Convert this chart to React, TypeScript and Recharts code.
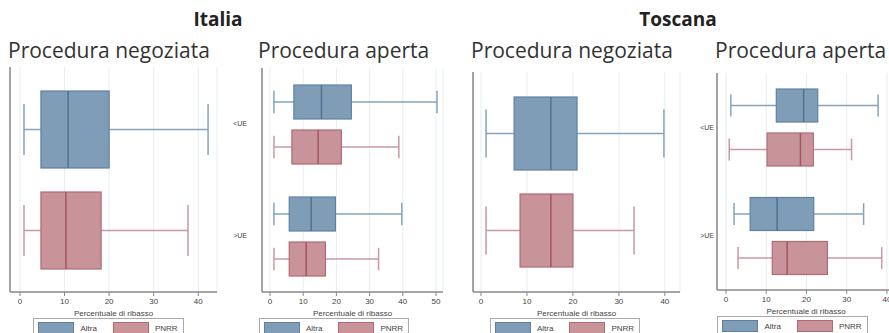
import { ComposedChart, Bar, XAxis, YAxis, CartesianGrid, Legend } from 'recharts';

// five-number summaries: [min, q1, median, q3, max]
const seriesNames = ['Altra', 'PNRR'];
const apertaCats = ['<UE', '>UE'];
const xTicks40 = [0, 10, 20, 30, 40];
const xTicks50 = [0, 10, 20, 30, 40, 50];

const itNegAltra = [0.9, 4.7, 10.8, 20.0, 42.2];
const itNegPnrr = [0.9, 4.7, 10.3, 18.2, 37.7];

const itApAltra = [
  [1.2, 7.2, 15.5, 24.5, 50.3],
  [1.2, 5.8, 12.4, 19.7, 39.7],
];
const itApPnrr = [
  [1.2, 6.6, 14.5, 21.5, 38.8],
  [1.2, 5.8, 10.9, 16.7, 32.7],
];

const tsNegAltra = [1.1, 7.2, 15.2, 20.9, 39.8];
const tsNegPnrr = [1.1, 8.5, 15.2, 20.0, 33.3];

const tsApAltra = [
  [1.2, 12.5, 19.3, 22.8, 37.8],
  [2.0, 6.0, 12.7, 21.8, 34.2],
];
const tsApPnrr = [
  [0.8, 10.2, 18.5, 21.7, 31.2],
  [3.0, 11.5, 15.2, 25.2, 38.7],
];

const colors = {
  Altra: { fill: '#7f9db7', stroke: '#5f81a0', whisker: '#86a3bc', median: '#4f7394' },
  PNRR: { fill: '#c8949a', stroke: '#b06a74', whisker: '#cc97a0', median: '#a35562' },
};

const negRows = (a: number[], p: number[]) => [{ cat: '', Altra: a, PNRR: p }];
const apRows = (a: number[][], p: number[][]) =>
  apertaCats.map((c, i) => ({ cat: c, Altra: a[i], PNRR: p[i] }));

const CH = 350;
const AXIS_H = 26;
const LEG_H = 20;

const panels = [
  {
    title: 'Procedura negoziata', titleLeft: 8, left: 0, width: 225, top: 67, bottom: 292,
    yw: 10, right: 8, domain: [-2.24, 44.2], ticks: xTicks40, barSize: 77, barGap: 24,
    tickMargin: 2, rows: negRows(itNegAltra, itNegPnrr),
  },
  {
    title: 'Procedura aperta', titleLeft: 258, left: 225, width: 225, top: 68, bottom: 292,
    yw: 37, right: 7, domain: [-2.4, 52.1], ticks: xTicks50, barSize: 34, barGap: 11,
    tickMargin: 15, rows: apRows(itApAltra, itApPnrr),
  },
  {
    title: 'Procedura negoziata', titleLeft: 471, left: 450, width: 240, top: 72, bottom: 292,
    yw: 23, right: 10, domain: [-1.74, 43.3], ticks: xTicks40, barSize: 73, barGap: 24,
    tickMargin: 2, rows: negRows(tsNegAltra, tsNegPnrr),
  },
  {
    title: 'Procedura aperta', titleLeft: 715, left: 690, width: 210, top: 73, bottom: 290,
    yw: 27, right: 5, domain: [-2.24, 42], ticks: xTicks40, barSize: 33, barGap: 11,
    tickMargin: 3, rows: apRows(tsApAltra, tsApPnrr),
  },
];

function BoxShape(props: any) {
  const { x, y, width, height, payload, name } = props;
  const s: number[] = payload[name];
  const c = (colors as any)[name];
  const lo = s[0];
  const hi = s[4];
  const px = (v: number) => x + ((v - lo) / (hi - lo)) * width;
  const cy = y + height / 2;
  const cap = height * 0.33;
  return (
    <g>
      <line x1={px(s[0])} x2={px(s[1])} y1={cy} y2={cy} stroke={c.whisker} strokeWidth={1.5} />
      <line x1={px(s[3])} x2={px(s[4])} y1={cy} y2={cy} stroke={c.whisker} strokeWidth={1.5} />
      <line x1={px(s[0])} x2={px(s[0])} y1={cy - cap} y2={cy + cap} stroke={c.whisker} strokeWidth={1.5} />
      <line x1={px(s[4])} x2={px(s[4])} y1={cy - cap} y2={cy + cap} stroke={c.whisker} strokeWidth={1.5} />
      <rect
        x={px(s[1])}
        y={y}
        width={px(s[3]) - px(s[1])}
        height={height}
        fill={c.fill}
        stroke={c.stroke}
        strokeWidth={1.2}
      />
      <line x1={px(s[2])} x2={px(s[2])} y1={y} y2={y + height} stroke={c.median} strokeWidth={1.5} />
    </g>
  );
}

function LegendBox() {
  return (
    <div style={{ display: 'flex', justifyContent: 'center', height: LEG_H }}>
      <div
        style={{
          display: 'flex',
          alignItems: 'flex-start',
          border: '1px solid #aaa',
          padding: '3px 5px 0 4px',
          height: LEG_H,
          boxSizing: 'border-box',
          background: '#fff',
        }}
      >
        {seriesNames.map((n, i) => (
          <div key={n} style={{ display: 'flex', alignItems: 'center', marginRight: i === 0 ? 16 : 0 }}>
            <div
              style={{
                width: 34,
                height: 10,
                background: (colors as any)[n].fill,
                border: `1px solid ${(colors as any)[n].stroke}`,
              }}
            />
            <span style={{ fontFamily: 'Liberation Sans', fontSize: 8, color: '#444', marginLeft: 6 }}>{n}</span>
          </div>
        ))}
      </div>
    </div>
  );
}

function Panel({ p }: { p: (typeof panels)[number] }) {
  return (
    <div style={{ position: 'absolute', left: p.left, top: 0 }}>
      <ComposedChart
        width={p.width}
        height={CH}
        data={p.rows}
        layout="vertical"
        barGap={p.barGap}
        margin={{ top: p.top, right: p.right, left: 0, bottom: CH - p.bottom - AXIS_H - LEG_H }}
      >
        <CartesianGrid horizontal={false} stroke="#e4eef3" />
        <XAxis
          type="number"
          domain={p.domain}
          ticks={p.ticks}
          allowDataOverflow
          height={AXIS_H}
          axisLine={{ stroke: '#888', strokeWidth: 1.5 }}
          tickLine={{ stroke: '#888' }}
          tickSize={4}
          tick={{ fontSize: 8, fill: '#444', fontFamily: 'Liberation Sans' }}
          label={{
            value: 'Percentuale di ribasso',
            position: 'insideBottom',
            offset: 2,
            style: { fontSize: 8, fill: '#444', fontFamily: 'Liberation Sans' },
          }}
        />
        <YAxis
          type="category"
          dataKey="cat"
          width={p.yw}
          axisLine={{ stroke: '#888', strokeWidth: 1.5 }}
          tickLine={false}
          tickSize={0}
          tickMargin={p.tickMargin}
          tick={{ fontSize: 7, fill: '#444', fontFamily: 'Liberation Sans' }}
        />
        <Legend verticalAlign="bottom" content={() => <LegendBox />} />
        {seriesNames.map((n) => (
          <Bar
            key={n}
            name={n}
            dataKey={(r: any) => [r[n][0], r[n][4]]}
            barSize={p.barSize}
            fill={(colors as any)[n].fill}
            isAnimationActive={false}
            shape={(props: any) => <BoxShape {...props} name={n} />}
          />
        ))}
      </ComposedChart>
      <div
        style={{
          position: 'absolute',
          left: p.titleLeft - p.left,
          top: 36,
          fontFamily: 'Open Sans',
          fontSize: 21,
          color: '#333',
          whiteSpace: 'nowrap',
          lineHeight: '28px',
        }}
      >
        {p.title}
      </div>
    </div>
  );
}

const groupTitles = [
  { text: 'Italia', center: 218 },
  { text: 'Toscana', center: 678 },
];

export default function App() {
  return (
    <div
      style={{
        position: 'absolute',
        left: 0,
        top: 0,
        width: 889,
        height: 333,
        overflow: 'hidden',
        background: '#fff',
      }}
    >
      {panels.map((p, i) => (
        <Panel key={i} p={p} />
      ))}
      {groupTitles.map((g) => (
        <div
          key={g.text}
          style={{
            position: 'absolute',
            left: g.center - 60,
            width: 120,
            top: 6,
            textAlign: 'center',
            fontFamily: 'Open Sans',
            fontWeight: 700,
            fontSize: 19,
            color: '#222',
            lineHeight: '26px',
          }}
        >
          {g.text}
        </div>
      ))}
    </div>
  );
}
